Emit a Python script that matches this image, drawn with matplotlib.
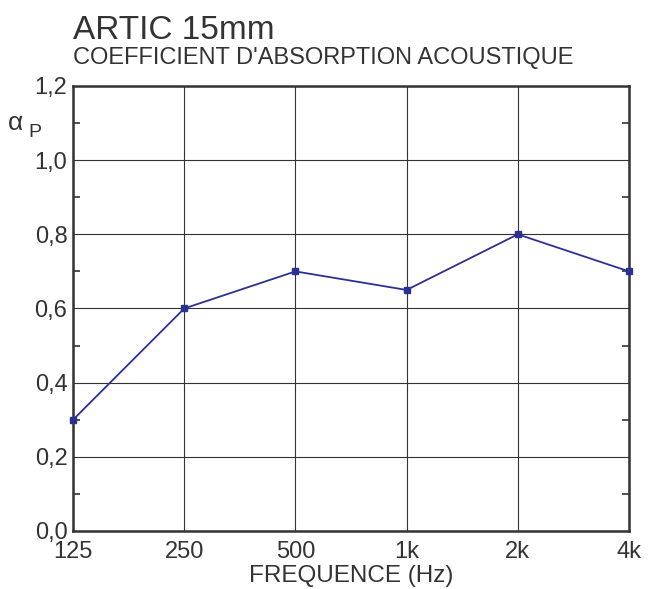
import numpy as np
import matplotlib
matplotlib.use("Agg")
from matplotlib import pyplot as plt
from matplotlib.ticker import MultipleLocator, FuncFormatter

# données
frequences = ["125", "250", "500", "1k", "2k", "4k"]
alpha_p = [0.30, 0.60, 0.70, 0.65, 0.80, 0.70]

plt.rc('font', family=['Liberation Sans', 'DejaVu Sans'])

fig = plt.figure(figsize=(6.48, 5.89), dpi=100)
ax = fig.add_axes([0.1127, 0.0985, 0.858, 0.7555])

x = np.arange(len(frequences))
ax.plot(x, alpha_p, color='#2B3192', linewidth=1.3, marker='s', markersize=5,
        clip_on=False, zorder=3)

ax.set_xlim(0, len(frequences) - 1)
ax.set_ylim(0, 1.2)
ax.set_xticks(x)
ax.set_xticklabels(frequences)
ax.yaxis.set_major_locator(MultipleLocator(0.2))
ax.yaxis.set_minor_locator(MultipleLocator(0.1))
ax.yaxis.set_major_formatter(FuncFormatter(lambda v, p: f"{v:.1f}".replace('.', ',')))

ax.grid(True, which='major', color='#333333', linewidth=0.8)
ax.tick_params(axis='x', which='major', length=0, labelsize=17, colors='#333333',
               pad=7)
ax.tick_params(axis='y', which='major', length=0, labelsize=17, colors='#333333',
               pad=4)
ax.tick_params(axis='y', which='minor', direction='in', length=5, width=1.2,
               left=True, right=True, color='#333333')
for s in ax.spines.values():
    s.set_color('#333333')
    s.set_linewidth(1.8)

ax.set_xlabel("FREQUENCE (Hz)", fontsize=17.5, color='#333333', labelpad=2)

fig.text(0.1127, 0.934, "ARTIC 15mm", fontsize=24, color='#333333', va='baseline')
fig.text(0.1127, 0.891, "COEFFICIENT D'ABSORPTION ACOUSTIQUE", fontsize=17,
         color='#333333', va='baseline')
fig.text(0.012, 0.779, "α", fontsize=19, color='#333333', va='baseline')
fig.text(0.044, 0.767, "P", fontsize=14, color='#333333', va='baseline')

fig.savefig("out.png", dpi=100)
